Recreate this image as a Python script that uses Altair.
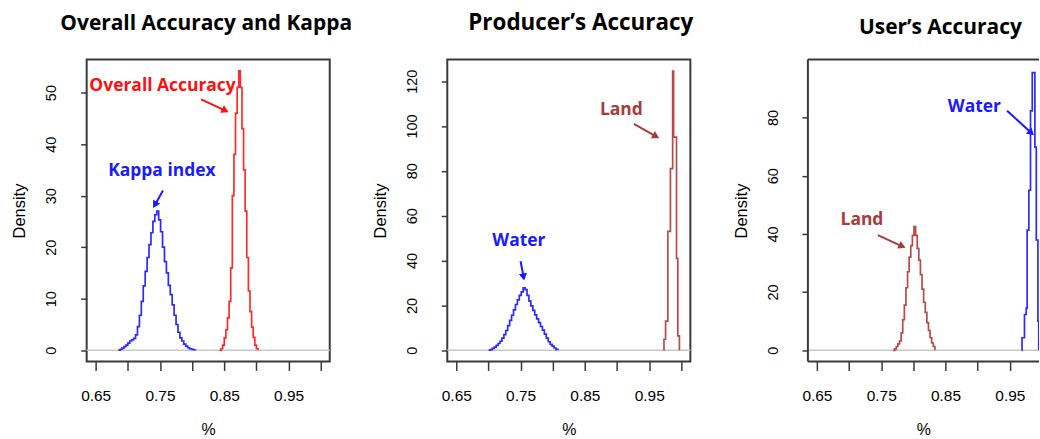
import altair as alt
import pandas as pd

# ---------------- data ----------------
kappa_x = [0.685, 0.688, 0.691, 0.694, 0.697, 0.700, 0.703, 0.706, 0.709, 0.712, 0.715, 0.718, 0.721, 0.724,
           0.727, 0.730, 0.733, 0.736, 0.739, 0.742, 0.745, 0.748, 0.751, 0.754, 0.757, 0.760, 0.763, 0.766,
           0.769, 0.772, 0.775, 0.778, 0.781, 0.784, 0.787, 0.790, 0.793, 0.796, 0.799, 0.802, 0.805]
kappa_y = [0, 0.2, 0.4, 0.7, 1.0, 1.4, 1.8, 2.0, 2.3, 3.0, 4.6, 6.8, 9.5, 12.5,
           15.3, 18.0, 20.5, 22.8, 25.0, 26.3, 27.0, 25.3, 23.0, 20.0, 17.2, 15.0, 12.6, 10.8,
           8.8, 6.8, 5.0, 3.5, 2.4, 1.8, 1.2, 0.8, 0.5, 0.3, 0.2, 0.1, 0]

oa_x = [0.8425, 0.845, 0.8475, 0.85, 0.8525, 0.855, 0.8575, 0.86, 0.8625, 0.865, 0.8675, 0.87, 0.8725,
        0.875, 0.8775, 0.88, 0.8825, 0.885, 0.8875, 0.89, 0.8925, 0.895, 0.8975, 0.9, 0.9025]
oa_y = [0, 0.3, 1.0, 2.4, 4.0, 6.3, 9.5, 16.0, 30.0, 38.0, 46.0, 51.0, 54.2,
        51.0, 43.0, 35.0, 27.0, 18.0, 11.5, 7.5, 4.5, 2.5, 1.0, 0.3, 0]

prod_water_x = [0.700, 0.703, 0.706, 0.709, 0.712, 0.715, 0.718, 0.721, 0.724, 0.727, 0.730, 0.733, 0.736,
                0.739, 0.742, 0.745, 0.748, 0.751, 0.754, 0.757, 0.760, 0.763, 0.766, 0.769, 0.772, 0.775,
                0.778, 0.781, 0.784, 0.787, 0.790, 0.793, 0.796, 0.799, 0.802, 0.805, 0.808]
prod_water_y = [0, 0.3, 0.8, 1.4, 2.2, 3.0, 4.0, 5.4, 7.0, 8.8, 11.0, 13.3, 15.6,
                18.0, 20.4, 22.5, 24.5, 26.0, 27.8, 27.0, 24.5, 21.9, 19.8, 17.8, 15.8, 14.0,
                12.3, 10.6, 9.0, 7.2, 5.4, 3.8, 2.6, 1.8, 1.0, 0.4, 0]

prod_land_x = [0.9725, 0.973, 0.9755, 0.979, 0.983, 0.9865, 0.988, 0.9925, 0.9945, 0.997]
prod_land_y = [0, 4.9, 13, 53, 81, 124.5, 95, 41, 6.4, 0]

user_land_x = [0.7685, 0.771, 0.7735, 0.776, 0.7785, 0.781, 0.7835, 0.786, 0.7885, 0.791, 0.7935, 0.796,
               0.7985, 0.801, 0.8035, 0.806, 0.8085, 0.811, 0.8135, 0.816, 0.8185, 0.821, 0.8235, 0.826,
               0.8285, 0.831, 0.8335]
user_land_y = [0, 0.5, 1.3, 2.2, 3.2, 6.0, 10.5, 15.5, 21.5, 27.0, 32.0, 36.0,
               39.5, 42.5, 39.5, 35.0, 31.0, 26.0, 21.0, 16.5, 13.0, 9.5, 6.8, 4.3,
               2.5, 1.3, 0]

user_water_x = [0.9685, 0.969, 0.9728, 0.9755, 0.977, 0.9796, 0.9822, 0.9849, 0.989, 0.9912, 0.9937, 0.995]
user_water_y = [0, 4.3, 12.3, 14.5, 41.3, 55, 82.3, 95.4, 69.8, 37.9, 10, 0]

x_ticks = [0.65, 0.70, 0.75, 0.80, 0.85, 0.90, 0.95, 1.00]
titles = ["Overall Accuracy and Kappa", "Producer\u2019s Accuracy", "User\u2019s Accuracy"]
title_size = [21, 22.5, 21]
title_dx = [-2, 12, 17]
title_offset = [26, 25, 21]

# annotation labels
label_panel = [0, 0, 1, 1, 2, 2]
label_text = ["Overall Accuracy", "Kappa index", "Water", "Land", "Water", "Land"]
label_x = [0.754, 0.753, 0.7474, 0.9068, 0.8949, 0.7201]
label_y = [51.2, 34.8, 48.6, 107.0, 83.5, 44.9]
label_col = ["red", "blue", "blue", "brown", "blue", "brown"]

# arrows: start (x, y) -> end (x2, y2), head angle
arrow_panel = [0, 0, 1, 1, 2, 2]
arrow_x = [0.814, 0.7547, 0.750, 0.9262, 0.9458, 0.7448]
arrow_y = [48.7, 31.0, 39.7, 100.9, 82.3, 39.6]
arrow_x2 = [0.850, 0.7430, 0.7543, 0.9590, 0.9820, 0.7810]
arrow_y2 = [46.6, 28.4, 33.2, 95.6, 75.0, 35.9]
arrow_ang = [116.6, 209.0, 170.0, 119.2, 133.0, 114.9]
arrow_col = ["red", "blue", "blue", "brown", "blue", "brown"]

COL_LINE = {"red": "#ff2a2a", "blue": "#2a2aff", "brown": "#b84a4a"}
COL_TEXT = {"red": "#ff1010", "blue": "#1a1aff", "brown": "#a83c3c"}
FRAME = "#3a3a3a"

y_domains = [[-2.17, 56.4], [-5.0, 129.6], [-3.84, 99.9]]
y_ticks = [[0, 10, 20, 30, 40, 50], [0, 20, 40, 60, 80, 100, 120], [0, 20, 40, 60, 80]]
x_domains = [[0.636, 1.014], [0.636, 1.014], [0.636, 0.9954]]
widths = [244, 244, 232]
curves = [
    [(kappa_x, kappa_y, "blue"), (oa_x, oa_y, "red")],
    [(prod_water_x, prod_water_y, "blue"), (prod_land_x, prod_land_y, "brown")],
    [(user_land_x, user_land_y, "brown"), (user_water_x, user_water_y, "blue")],
]

TITLE_FONT = "Open Sans"
AXIS_FONT = "Liberation Sans"
H = 303


def panel(i):
    xs = alt.Scale(domain=x_domains[i], nice=False, zero=False)
    ys = alt.Scale(domain=y_domains[i], nice=False, zero=False)
    xaxis = alt.Axis(values=x_ticks, labelExpr="round(datum.value*100) % 10 == 5 ? format(datum.value, '.2f') : ''",
                     domain=False, grid=False, tickSize=9, tickColor=FRAME, tickWidth=1.5,
                     labelFont=AXIS_FONT, labelFontSize=15.5, labelColor="black", labelPadding=18,
                     labelFlush=False, labelOverlap=False,
                     titleFont=AXIS_FONT, titleFontSize=16, titleFontWeight="normal", titleColor="black",
                     titlePadding=18)
    yaxis = alt.Axis(values=y_ticks[i], domain=False, grid=False, tickSize=6, tickColor=FRAME, tickWidth=1.5,
                     labelFont=AXIS_FONT, labelFontSize=14.5, labelColor="black", labelAngle=270,
                     labelAlign="center", labelBaseline="bottom", labelPadding=22, labelFlush=False,
                     labelOverlap=False,
                     titleFont=AXIS_FONT, titleFontSize=16.5, titleFontWeight="normal", titleColor="black",
                     titlePadding=16)
    X = alt.X("x:Q", scale=xs, axis=xaxis, title="%")
    Y = alt.Y("y:Q", scale=ys, axis=yaxis, title="Density")
    X2 = alt.X2("x2:Q")
    Y2 = alt.Y2("y2:Q")

    layers = [alt.Chart(pd.DataFrame({"y": [0]})).mark_rule(color="#c8c8c8", strokeWidth=1.5).encode(y=Y)]
    for cx, cy, col in curves[i]:
        df = pd.DataFrame({"x": cx, "y": cy})
        layers.append(alt.Chart(df).mark_line(interpolate="step-after", color=COL_LINE[col],
                                              strokeWidth=1.7, clip=True).encode(x=X, y=Y))
    lab = pd.DataFrame({"x": label_x, "y": label_y, "t": label_text, "c": label_col, "p": label_panel})
    lab = lab[lab.p == i]
    for _, r in lab.iterrows():
        layers.append(alt.Chart(pd.DataFrame([r])).mark_text(font=TITLE_FONT, fontSize=17.5, fontWeight="bold",
                                                              color=COL_TEXT[r.c]).encode(x=X, y=Y, text="t:N"))
    arr = pd.DataFrame({"x": arrow_x, "y": arrow_y, "x2": arrow_x2, "y2": arrow_y2, "a": arrow_ang,
                        "c": arrow_col, "p": arrow_panel})
    arr = arr[arr.p == i]
    for _, r in arr.iterrows():
        d = pd.DataFrame([r])
        layers.append(alt.Chart(d).mark_rule(color=COL_TEXT[r.c], strokeWidth=2).encode(x=X, y=Y, x2=X2, y2=Y2))
        layers.append(alt.Chart(d).mark_point(shape="triangle", filled=True, size=70, opacity=1,
                                              color=COL_TEXT[r.c], angle=float(r.a)).encode(
            x=alt.X("x2:Q", scale=xs, axis=xaxis, title="%"),
            y=alt.Y("y2:Q", scale=ys, axis=yaxis, title="Density")))
    if i == 2:
        # frame drawn by hand: the right edge is outside the picture
        yd = y_domains[i]
        layers.append(alt.Chart(pd.DataFrame({"y": [yd[0], yd[1]]})).mark_rule(
            color=FRAME, strokeWidth=2).encode(y=Y))
        layers.append(alt.Chart(pd.DataFrame({"x": [x_domains[i][0]]})).mark_rule(
            color=FRAME, strokeWidth=2).encode(x=X))
        view = alt.ViewBackground(stroke="transparent", strokeWidth=0)
    else:
        view = alt.ViewBackground(stroke=FRAME, strokeWidth=2)
    return alt.layer(*layers).properties(
        width=widths[i], height=H, view=view,
        title=alt.TitleParams(titles[i], font=TITLE_FONT, fontSize=title_size[i], fontWeight="bold",
                              color="black", anchor="middle", frame="group", offset=title_offset[i],
                              dx=title_dx[i]))


chart = alt.hconcat(panel(0), panel(1), panel(2), spacing=118, bounds="flush").properties(
    padding={"left": 11, "top": 10, "right": 0, "bottom": 0}
).configure(background="white")

chart.save("out.html", embed_options={"renderer": "svg", "actions": False})
